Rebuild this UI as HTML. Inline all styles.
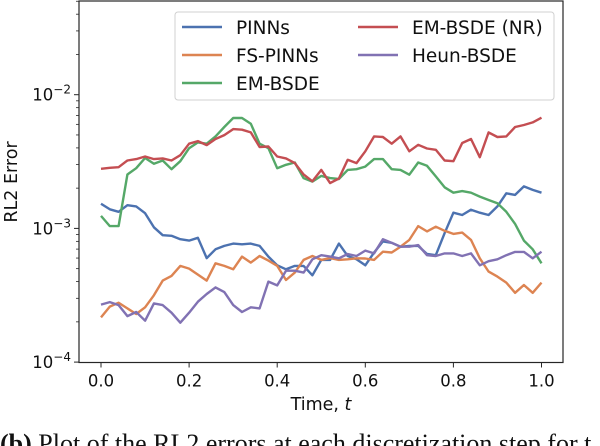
<!DOCTYPE html>
<html><head><meta charset="utf-8"><style>
html,body{margin:0;padding:0;background:#fff;width:600px;height:446px;overflow:hidden}
</style></head><body>
<svg id="chart" width="600" height="446" viewBox="0 0 600 446" xmlns="http://www.w3.org/2000/svg" style="font-family:'DejaVu Sans','Liberation Sans',sans-serif">
<g id="plot"></g>
</svg>
<script>
const times = Array.from({length:51},(_,i)=>+(i*0.02).toFixed(2));
const xTicks = [0,0.2,0.4,0.6,0.8,1.0];
const xTickLabels = ["0.0","0.2","0.4","0.6","0.8","1.0"];
const yDecades = [-4,-3,-2];
const pinns = [1.53e-3,1.39e-3,1.33e-3,1.49e-3,1.46e-3,1.30e-3,1.02e-3,8.9e-4,8.8e-4,8.3e-4,8.1e-4,8.5e-4,6.0e-4,6.98e-4,7.4e-4,7.7e-4,7.6e-4,7.7e-4,7.4e-4,6.15e-4,5.3e-4,4.94e-4,5.24e-4,5.24e-4,4.46e-4,5.81e-4,5.81e-4,7.7e-4,6.22e-4,5.87e-4,5.3e-4,6.6e-4,8.0e-4,7.8e-4,7.3e-4,7.4e-4,7.4e-4,6.44e-4,6.3e-4,9.2e-4,1.31e-3,1.26e-3,1.38e-3,1.31e-3,1.26e-3,1.46e-3,1.83e-3,1.78e-3,2.06e-3,1.94e-3,1.85e-3];
const fsPinns = [2.16e-4,2.6e-4,2.78e-4,2.52e-4,2.29e-4,2.57e-4,3.16e-4,4.07e-4,4.41e-4,5.24e-4,5.0e-4,4.51e-4,4.07e-4,5.48e-4,5.24e-4,4.94e-4,6.15e-4,5.55e-4,6.22e-4,5.74e-4,5.24e-4,4.11e-4,4.67e-4,5.81e-4,6.22e-4,5.81e-4,6.0e-4,5.81e-4,5.87e-4,5.98e-4,5.95e-4,5.81e-4,6.7e-4,6.6e-4,7.3e-4,8.2e-4,1.04e-3,9.5e-4,1.03e-3,9.6e-4,9.1e-4,9.3e-4,8.2e-4,5.98e-4,4.75e-4,4.36e-4,3.93e-4,3.3e-4,3.77e-4,3.3e-4,3.93e-4];
const emBsde = [1.24e-3,1.04e-3,1.04e-3,2.53e-3,2.82e-3,3.36e-3,3.04e-3,3.22e-3,2.77e-3,3.18e-3,3.98e-3,4.40e-3,4.30e-3,4.88e-3,5.73e-3,6.69e-3,6.69e-3,6.07e-3,4.30e-3,3.98e-3,2.82e-3,2.99e-3,3.11e-3,2.38e-3,2.24e-3,2.47e-3,2.38e-3,2.34e-3,2.74e-3,2.77e-3,2.90e-3,3.30e-3,3.30e-3,2.77e-3,2.74e-3,2.52e-3,3.11e-3,2.94e-3,2.45e-3,2.03e-3,1.85e-3,1.90e-3,1.85e-3,1.73e-3,1.63e-3,1.54e-3,1.33e-3,1.08e-3,8.1e-4,6.98e-4,5.48e-4];
const emBsdeNr = [2.79e-3,2.84e-3,2.87e-3,3.22e-3,3.30e-3,3.45e-3,3.30e-3,3.34e-3,3.22e-3,3.53e-3,4.30e-3,4.50e-3,4.20e-3,4.66e-3,4.99e-3,5.53e-3,5.47e-3,5.22e-3,4.06e-3,4.10e-3,3.45e-3,3.34e-3,3.08e-3,2.53e-3,2.25e-3,2.74e-3,2.18e-3,2.36e-3,3.26e-3,3.08e-3,3.77e-3,4.88e-3,4.83e-3,4.30e-3,4.88e-3,3.77e-3,4.22e-3,3.96e-3,3.87e-3,3.22e-3,3.18e-3,4.35e-3,4.66e-3,3.41e-3,5.22e-3,4.83e-3,4.88e-3,5.73e-3,5.93e-3,6.21e-3,6.73e-3];
const heunBsde = [2.69e-4,2.81e-4,2.67e-4,2.21e-4,2.37e-4,2.04e-4,2.75e-4,2.67e-4,2.34e-4,1.97e-4,2.34e-4,2.83e-4,3.23e-4,3.62e-4,3.34e-4,2.67e-4,2.37e-4,2.57e-4,2.52e-4,4.0e-4,3.75e-4,4.83e-4,4.83e-4,4.67e-4,5.87e-4,6.3e-4,6.15e-4,5.98e-4,6.44e-4,6.22e-4,6.82e-4,6.5e-4,8.3e-4,7.8e-4,7.3e-4,7.3e-4,7.5e-4,6.3e-4,6.22e-4,6.5e-4,6.5e-4,6.22e-4,6.5e-4,5.3e-4,5.68e-4,5.87e-4,6.3e-4,6.67e-4,6.67e-4,5.98e-4,6.7e-4];

const NS="http://www.w3.org/2000/svg";
const L=79,R=563,T=1,B=362.5;
const x=t=>101+t*440.5;
const y=v=>94.7-(Math.log10(v)+2)*133.7;
const g=document.getElementById('plot');
function mk(tag,attrs,parent){const e=document.createElementNS(NS,tag);for(const k in attrs)e.setAttribute(k,attrs[k]);(parent||g).appendChild(e);return e;}

const series=[
 {name:"PINNs",data:pinns,color:"#4c72b0",key:"pinns"},
 {name:"FS-PINNs",data:fsPinns,color:"#dd8452",key:"fs-pinns"},
 {name:"EM-BSDE",data:emBsde,color:"#55a868",key:"em-bsde"},
 {name:"EM-BSDE (NR)",data:emBsdeNr,color:"#c44e52",key:"em-bsde-nr"},
 {name:"Heun-BSDE",data:heunBsde,color:"#8172b3",key:"heun-bsde"}
];
series.forEach(s=>{
 const d=s.data.map((v,j)=>(j?'L':'M')+x(times[j]).toFixed(1)+','+y(v).toFixed(1)).join('');
 const p=mk('path',{d:d,fill:'none',stroke:s.color,'stroke-width':2.4,'stroke-linejoin':'round'});
 
 
});

const fr=mk('rect',{x:L,y:T,width:R-L,height:B-T,fill:'none',stroke:'#262626','stroke-width':1.2});



xTicks.forEach((t,i)=>{
 mk('line',{x1:x(t),x2:x(t),y1:B,y2:B+5,stroke:'#262626','stroke-width':1});
 const tx=mk('text',{x:x(t),y:B+24,'font-size':16.5,'text-anchor':'middle',fill:'#111'});
 tx.textContent=xTickLabels[i];
 
 
});
yDecades.forEach(k=>{
 const yy=y(Math.pow(10,k));
 mk('line',{x1:L-5,x2:L,y1:yy,y2:yy,stroke:'#262626','stroke-width':1});
 const tx=mk('text',{x:L-8,y:yy+6,'font-size':16.5,'text-anchor':'end',fill:'#111'});
 tx.innerHTML='10<tspan dy="-7" font-size="12">\u2212'+(-k)+'</tspan>';
 
 
 for(let m=2;m<=9;m++){const ym=y(m*Math.pow(10,k));if(ym>=T)mk('line',{x1:L-3,x2:L,y1:ym,y2:ym,stroke:'#262626','stroke-width':0.8});}
});
const xt=mk('text',{x:321,y:410,'font-size':17.5,'text-anchor':'middle',fill:'#111'});
xt.innerHTML='Time, <tspan font-style="italic">t</tspan>';


const yt=mk('text',{x:0,y:0,'font-size':17.5,'text-anchor':'middle',fill:'#111',transform:'translate(17,182) rotate(-90)'});
yt.textContent='RL2 Error';



const lg=mk('g',{});


mk('rect',{x:175,y:12,width:379,height:88,rx:3,fill:'#fff','fill-opacity':0.85,stroke:'#d0d0d0','stroke-width':1},lg);
const pos=[[182,27],[182,55],[182,83],[358,27],[358,55]];
series.forEach((s,i)=>{
 const e=mk('g',{},lg);
 
 
 mk('line',{x1:pos[i][0],x2:pos[i][0]+40,y1:pos[i][1],y2:pos[i][1],stroke:s.color,'stroke-width':2.6},e);
 const t=mk('text',{x:pos[i][0]+54,y:pos[i][1]+7,'font-size':18.5,fill:'#111'},e);
 t.textContent=s.name;
});

const cap=mk('text',{x:0,y:452,'font-size':26,fill:'#111',style:"font-family:'Liberation Serif',serif"});
cap.innerHTML='<tspan font-weight="bold">(b)</tspan> Plot of the RL2 errors at each discretization step for t';


</script>
</body></html>
